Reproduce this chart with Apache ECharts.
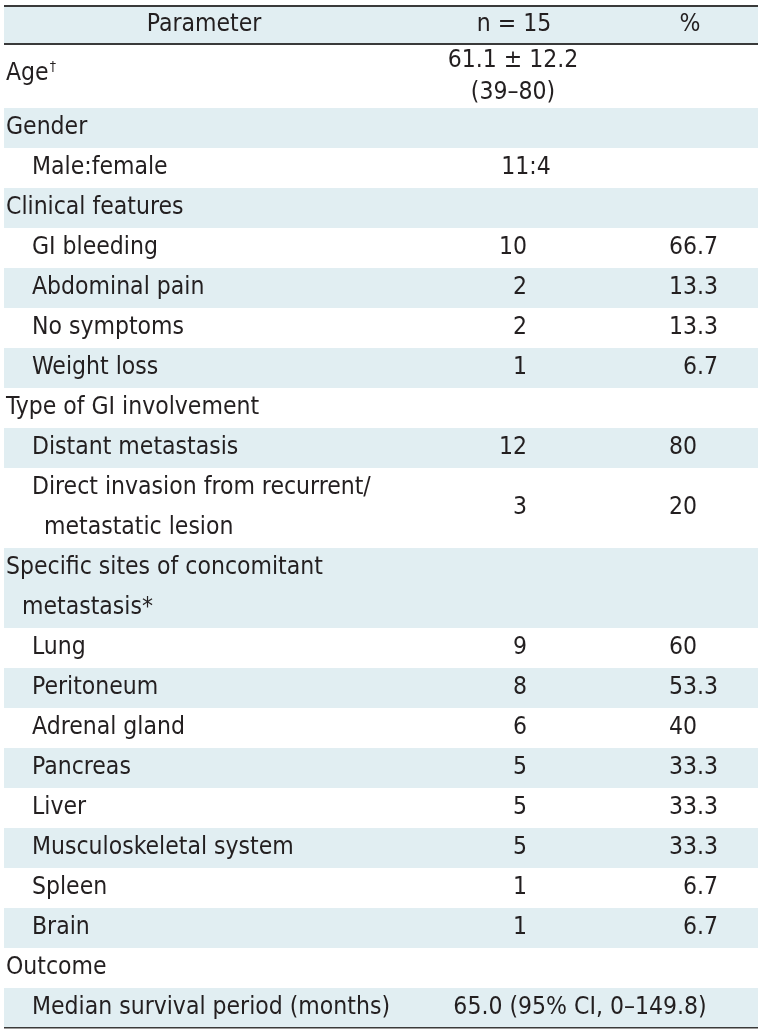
<!DOCTYPE html>
<html>
<head>
<meta charset="utf-8">
<script src="https://cdn.jsdelivr.net/npm/echarts@6/dist/echarts.min.js"></script>
<style>
html,body{margin:0;padding:0;background:#fff;}
#chart{width:762px;height:1033px;}
</style>
</head>
<body>
<div id="chart"></div>
<script>
// ---- data ----
const headers = ['Parameter', 'n = 15', '%'];
const labels = [
  'Age{sup|†}',
  'Gender',
  'Male:female',
  'Clinical features',
  'GI bleeding',
  'Abdominal pain',
  'No symptoms',
  'Weight loss',
  'Type of GI involvement',
  'Distant metastasis',
  'Direct invasion from recurrent/\nmetastatic lesion',
  'Specific sites of concomitant\nmetastasis*',
  'Lung',
  'Peritoneum',
  'Adrenal gland',
  'Pancreas',
  'Liver',
  'Musculoskeletal system',
  'Spleen',
  'Brain',
  'Outcome',
  'Median survival period (months)'
];
const levels = [0, 0, 1, 0, 1, 1, 1, 1, 0, 1, 1, 0, 1, 1, 1, 1, 1, 1, 1, 1, 0, 1];
const nValues = ['61.1 ± 12.2\n(39–80)', '', '11:4', '', '10', '2', '2', '1', '', '12', '3', '',
  '9', '8', '6', '5', '5', '5', '1', '1', '', '65.0 (95% CI, 0–149.8)'];
const pctValues = ['', '', '', '', '66.7', '13.3', '13.3', '6.7', '', '80', '20', '',
  '60', '53.3', '40', '33.3', '33.3', '33.3', '6.7', '6.7', '', ''];

// ---- layout ----
const FONT = '"DejaVu Sans Condensed", "DejaVu Sans", sans-serif';
const FS = 24.5;
const TXT = '#231f20';
const BAND = '#e1eef2';
const LINE = '#3a3a3a';
const TABLE_L = 4, TABLE_R = 758;
const HEAD_TOP = 5, HEAD_BOT = 45;

function rowHeight(i) {
  const labLines = labels[i].split('\n').length;
  const valLines = nValues[i].split('\n').length;
  if (labLines > 1) return 40 * labLines;
  if (valLines > 1) return 31.5 * valLines;
  return 40;
}
const rowTops = [];
let acc = HEAD_BOT;
for (let i = 0; i < labels.length; i++) { rowTops.push(acc); acc += rowHeight(i); }

const rows = labels.map((_, i) => [i]);
rows.unshift([-1]);

function textEl(x, y, str, align) {
  return {
    type: 'text',
    style: {
      x: x, y: y, text: str, align: align, verticalAlign: 'middle',
      fill: TXT, font: FS + 'px ' + FONT,
      rich: { sup: { fontSize: 14, fontFamily: FONT, fill: TXT, verticalAlign: 'top', padding: [0, 0, 13, 1] } }
    }
  };
}

function renderItem(params, api) {
  const i = api.value(0);
  const L = api.coord([TABLE_L, 0])[0];
  const R = api.coord([TABLE_R, 0])[0];
  const X = (v) => api.coord([v, 0])[0];
  const Y = (v) => api.coord([0, v])[1];
  const children = [];
  if (i === -1) {
    children.push({ type: 'rect', shape: { x: L, y: Y(HEAD_TOP), width: R - L, height: Y(HEAD_BOT) - Y(HEAD_TOP) }, style: { fill: BAND } });
    const ym = (Y(HEAD_TOP) + Y(HEAD_BOT)) / 2;
    children.push(textEl(X(204), ym, headers[0], 'center'));
    children.push(textEl(X(514), ym, headers[1], 'center'));
    children.push(textEl(X(690), ym, headers[2], 'center'));
    children.push({ type: 'rect', shape: { x: L, y: Y(HEAD_TOP), width: R - L, height: 2 }, style: { fill: LINE } });
    children.push({ type: 'rect', shape: { x: L, y: Y(HEAD_BOT) - 2, width: R - L, height: 2 }, style: { fill: LINE } });
    return { type: 'group', children: children };
  }
  const top = Y(rowTops[i]);
  const bot = Y(rowTops[i] + rowHeight(i));
  if (i % 2 === 1) {
    children.push({ type: 'rect', shape: { x: L, y: top, width: R - L, height: bot - top }, style: { fill: BAND } });
  }
  const mid = (top + bot) / 2;
  const labLines = labels[i].split('\n');
  const baseX = levels[i] === 0 ? 6 : 32;
  const contX = levels[i] === 0 ? 22 : 44;
  if (labLines.length === 1) {
    children.push(textEl(X(baseX), labLines[0].indexOf('{sup') >= 0 ? mid - 3 : mid, labLines[0], 'left'));
  } else {
    const lh = (bot - top) / labLines.length;
    labLines.forEach((ln, k) => {
      children.push(textEl(X(k === 0 ? baseX : contX), top + lh * (k + 0.5), ln, 'left'));
    });
  }
  const nv = nValues[i];
  if (nv) {
    const nl = nv.split('\n');
    if (nl.length > 1) {
      const lh = (bot - top) / nl.length;
      nl.forEach((ln, k) => children.push(textEl(X(513), top + lh * (k + 0.5), ln, 'center')));
    } else if (/^\d+$/.test(nv)) {
      children.push(textEl(X(527), mid, nv, 'right'));
    } else if (pctValues[i] === '' && nv.length > 8) {
      children.push(textEl(X(580), mid, nv, 'center'));
    } else {
      children.push(textEl(X(526), mid, nv, 'center'));
    }
  }
  const pv = pctValues[i];
  if (pv) {
    const parts = pv.split('.');
    children.push(textEl(X(697), mid, parts[0], 'right'));
    if (parts.length > 1) children.push(textEl(X(697), mid, '.' + parts[1], 'left'));
  }
  if (i === labels.length - 1) {
    children.push({ type: 'rect', shape: { x: L, y: bot - 1, width: R - L, height: 1.5 }, style: { fill: LINE } });
  }
  return { type: 'group', children: children };
}

const chart = echarts.init(document.getElementById('chart'), null, { renderer: 'canvas' });
chart.setOption({
  animation: false,
  backgroundColor: '#ffffff',
  grid: { left: 0, right: 0, top: 0, bottom: 0 },
  xAxis: { type: 'value', min: 0, max: 762, show: false },
  yAxis: { type: 'value', min: 0, max: 1033, inverse: true, show: false },
  series: [{
    type: 'custom',
    renderItem: renderItem,
    data: rows,
    encode: { x: 0, y: 0 },
    clip: false,
    silent: true
  }]
});
</script>
</body>
</html>
